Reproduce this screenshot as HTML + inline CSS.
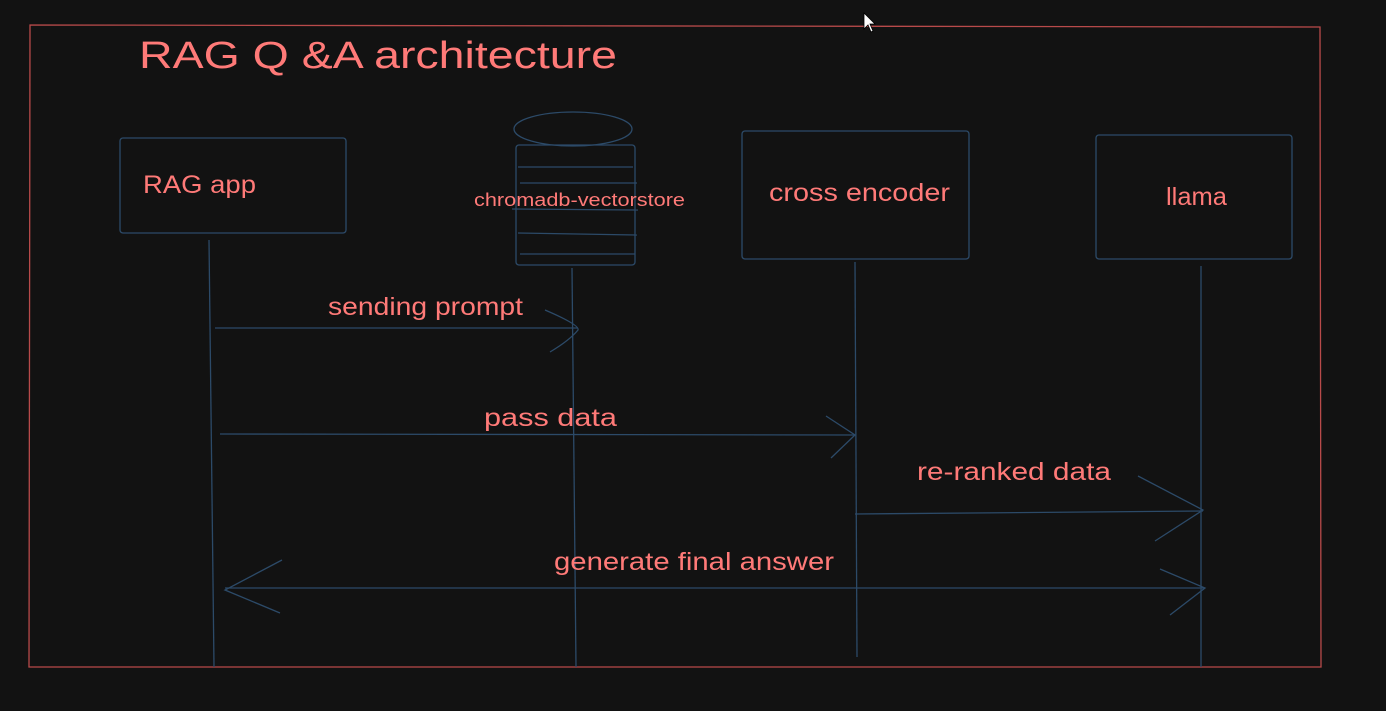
<!DOCTYPE html>
<html><head><meta charset="utf-8"><style>
html,body{margin:0;padding:0;background:#121212;}
svg{display:block;}
text{font-family:"Liberation Sans",sans-serif;fill:#ff7a78;}
</style></head><body>
<svg width="1386" height="711" viewBox="0 0 1386 711" xmlns="http://www.w3.org/2000/svg">
<rect width="1386" height="711" fill="#121212"/>
<g fill="none" stroke="#b84a4a" stroke-width="1.3">
<path d="M30 25 L1320 27 L1321 667 L29 667 Z"/>
</g>
<text x="139" y="68" font-size="38" textLength="478" lengthAdjust="spacingAndGlyphs">RAG Q &amp;A architecture</text>
<g fill="none" stroke="#2c4a68" stroke-width="1.3">
<rect x="120" y="138" width="226" height="95" rx="3"/>
<rect x="742" y="131" width="227" height="128" rx="3"/>
<rect x="1096" y="135" width="196" height="124" rx="3"/>
<ellipse cx="573" cy="129" rx="59" ry="17"/>
<rect x="516" y="145" width="119" height="120" rx="3"/>
<line x1="518" y1="167" x2="633" y2="167"/>
<line x1="520" y1="183" x2="637" y2="183"/>
<line x1="512" y1="209" x2="638" y2="210"/>
<line x1="518" y1="233" x2="637" y2="235"/>
<line x1="520" y1="254" x2="635" y2="254"/>
<!-- lifelines -->
<line x1="209" y1="240" x2="214" y2="667"/>
<line x1="572" y1="268" x2="576" y2="667"/>
<line x1="855" y1="262" x2="857" y2="657"/>
<line x1="1201" y1="266" x2="1201" y2="667"/>
<!-- arrows -->
<line x1="215" y1="328" x2="578" y2="328"/>
<path d="M545 310 Q580 325 578 330 Q570 340 550 352"/>
<line x1="220" y1="434" x2="855" y2="435"/>
<path d="M826 416 L855 435 L831 458"/>
<line x1="855" y1="514" x2="1203" y2="511"/>
<path d="M1138 476 L1203 510 L1155 541"/>
<line x1="225" y1="588" x2="1205" y2="588"/>
<path d="M1160 569 L1205 588 L1170 615"/>
<path d="M282 560 L225 590 L280 613"/>
</g>
<text x="143" y="193" font-size="25" textLength="113" lengthAdjust="spacingAndGlyphs">RAG app</text>
<text x="474" y="206" font-size="18" textLength="211" lengthAdjust="spacingAndGlyphs">chromadb-vectorstore</text>
<text x="769" y="201" font-size="25" textLength="181" lengthAdjust="spacingAndGlyphs">cross encoder</text>
<text x="1166" y="205" font-size="25" textLength="61" lengthAdjust="spacingAndGlyphs">llama</text>
<text x="328" y="315" font-size="25" textLength="195" lengthAdjust="spacingAndGlyphs">sending prompt</text>
<text x="484" y="426" font-size="25" textLength="133" lengthAdjust="spacingAndGlyphs">pass data</text>
<text x="917" y="480" font-size="25" textLength="194" lengthAdjust="spacingAndGlyphs">re-ranked data</text>
<text x="554" y="570" font-size="25" textLength="280" lengthAdjust="spacingAndGlyphs">generate final answer</text>
<path d="M864 13 L864 29 L868 25 L871 32 L873 31 L870 24 L875 24 Z" fill="#fff" stroke="#000" stroke-width="0.8"/>
</svg>
</body></html>
